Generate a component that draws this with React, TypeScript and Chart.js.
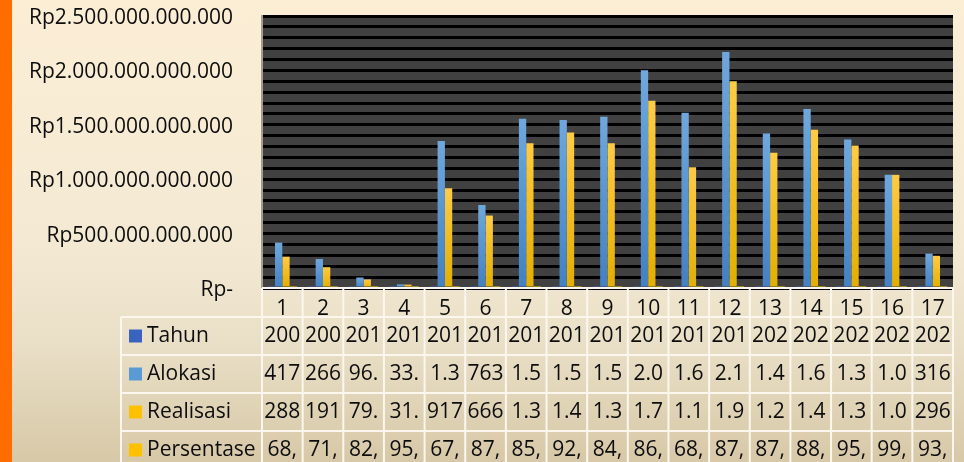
import React, { useEffect, useRef } from 'react';
import { Chart, registerables } from 'chart.js';

Chart.register(...registerables);

// ---- data ----
const categories = ['1', '2', '3', '4', '5', '6', '7', '8', '9', '10', '11', '12', '13', '14', '15', '16', '17'];
const tahun = [2008, 2009, 2010, 2011, 2012, 2013, 2014, 2015, 2016, 2017, 2018, 2019, 2020, 2021, 2022, 2023, 2024];
const alokasi = [
  417e9, 266e9, 96e9, 33e9, 1.352e12, 763e9, 1.556e12, 1.543e12, 1.575e12,
  2.002e12, 1.611e12, 2.168e12, 1.421e12, 1.645e12, 1.365e12, 1.042e12, 316e9,
];
const realisasi = [
  288e9, 191e9, 79e9, 31e9, 917e9, 666e9, 1.331e12, 1.43e12, 1.331e12,
  1.722e12, 1.11e12, 1.9e12, 1.242e12, 1.455e12, 1.31e12, 1.04e12, 296e9,
];
const persentase = [68.9, 71.8, 82.3, 95.1, 67.8, 87.3, 85.5, 92.7, 84.5, 86.0, 68.9, 87.6, 87.3, 88.4, 95.9, 99.7, 93.6];
const seriesNames = ['Tahun', 'Alokasi', 'Realisasi', 'Persentase'];
const yMax = 2.5e12;
const yStripeStep = 1e11;
const yLabelStep = 5e11;

// ---- helpers ----
const FONT = '"Open Sans", Lato, sans-serif';
const FONT_SIZE = 21;
const TEXT = '#0d0d0d';
const withDots = (n: number) => Math.round(n).toString().replace(/\B(?=(\d{3})+(?!\d))/g, '.');
const rpLabel = (v: number) => (v === 0 ? 'Rp-' : 'Rp' + withDots(v));
const clip3 = (s: string) => s.slice(0, 3);

const COLORS = {
  tahun: '#3A63BF',
  alokasi: '#5B9BD5',
  realisasi: '#FFC000',
  persentase: '#FFC000',
};

function vGrad(top: string, bottom: string) {
  return (c: any) => {
    const chart = c.chart;
    if (!chart.chartArea || c.type !== 'data') return top;
    const y = chart.scales.y;
    const y0 = y.getPixelForValue(0);
    const y1 = y.getPixelForValue(c.raw);
    if (!isFinite(y1) || Math.abs(y0 - y1) < 1) return top;
    const g = chart.ctx.createLinearGradient(0, y1, 0, y0);
    g.addColorStop(0, top);
    g.addColorStop(1, bottom);
    return g;
  };
}

const plotBgPlugin = {
  id: 'plotBg',
  beforeDraw(chart: any) {
    const { ctx, chartArea: a } = chart;
    ctx.save();
    ctx.fillStyle = '#414141';
    ctx.fillRect(a.left, a.top, a.right - a.left, a.bottom - a.top);
    ctx.restore();
  },
};

const TABLE_LEFT = 121;
const HEADER_H = 29;
const ROW_H = 38;

const tablePlugin = {
  id: 'dataTable',
  afterDraw(chart: any) {
    const { ctx, chartArea: a, scales } = chart;
    const x = scales.x;
    const n = categories.length;
    const colW = (a.right - a.left) / n;
    const top = a.bottom;
    const rowsTop = top + HEADER_H;
    const bottom = chart.height + 2;
    const rows = [
      { name: seriesNames[0], color: COLORS.tahun, cells: tahun.map((v) => clip3(String(v))) },
      { name: seriesNames[1], color: COLORS.alokasi, cells: alokasi.map((v) => clip3(withDots(v))) },
      { name: seriesNames[2], color: COLORS.realisasi, cells: realisasi.map((v) => clip3(withDots(v))) },
      { name: seriesNames[3], color: COLORS.persentase, cells: persentase.map((v) => clip3(v.toFixed(2).replace('.', ','))) },
    ];
    ctx.save();
    ctx.strokeStyle = '#FBF7EE';
    ctx.lineWidth = 2;
    ctx.beginPath();
    ctx.moveTo(a.left, top);
    ctx.lineTo(a.right, top);
    for (let r = 0; r < rows.length; r++) {
      const yy = rowsTop + r * ROW_H;
      ctx.moveTo(TABLE_LEFT, yy);
      ctx.lineTo(a.right, yy);
    }
    ctx.moveTo(TABLE_LEFT, rowsTop);
    ctx.lineTo(TABLE_LEFT, bottom);
    for (let i = 0; i <= n; i++) {
      const xx = i < n ? x.getPixelForValue(i) - colW / 2 : x.getPixelForValue(n - 1) + colW / 2;
      ctx.moveTo(xx, top);
      ctx.lineTo(xx, bottom);
    }
    ctx.stroke();

    ctx.font = `${FONT_SIZE}px ${FONT}`;
    ctx.textBaseline = 'middle';
    rows.forEach((row, r) => {
      const cy = rowsTop + r * ROW_H + ROW_H / 2;
      ctx.fillStyle = row.color;
      ctx.fillRect(TABLE_LEFT + 8, cy - 6.5, 13, 13);
      ctx.fillStyle = TEXT;
      ctx.textAlign = 'left';
      ctx.fillText(row.name, TABLE_LEFT + 26, cy);
      ctx.textAlign = 'center';
      row.cells.forEach((t, i) => {
        ctx.fillText(t, x.getPixelForValue(i), cy);
      });
    });
    ctx.restore();
  },
};

export default function App() {
  const ref = useRef<HTMLCanvasElement | null>(null);

  useEffect(() => {
    document.body.style.margin = '0';
    if (!ref.current) return;
    const chart = new Chart(ref.current, {
      type: 'bar',
      data: {
        labels: categories,
        datasets: [
          { label: seriesNames[0], data: tahun, backgroundColor: COLORS.tahun, borderWidth: 0 },
          { label: seriesNames[1], data: alokasi, backgroundColor: vGrad('#6EA8DD', '#4480C2'), borderWidth: 0 },
          { label: seriesNames[2], data: realisasi, backgroundColor: vGrad('#FFCB45', '#E2AE00'), borderWidth: 0 },
          { label: seriesNames[3], data: persentase, backgroundColor: COLORS.persentase, borderWidth: 0 },
        ],
      },
      options: {
        animation: false,
        responsive: false,
        devicePixelRatio: 1,
        layout: { padding: { top: 16, right: 11, left: 0, bottom: 0 } },
        datasets: { bar: { barPercentage: 1, categoryPercentage: 0.72 } },
        plugins: { legend: { display: false }, tooltip: { enabled: false } },
        scales: {
          x: {
            grid: { display: false },
            border: { display: false },
            ticks: { font: { family: FONT, size: FONT_SIZE }, color: TEXT, padding: 0, maxRotation: 0 },
            afterFit: (s: any) => { s.height = 174; s.paddingLeft = 0; s.paddingRight = 0; },
          },
          y: {
            min: 0,
            max: yMax,
            grid: { color: '#000000', lineWidth: 3, drawTicks: false },
            border: { display: true, color: '#A39D8E', width: 2 },
            ticks: {
              stepSize: yStripeStep,
              autoSkip: false,
              padding: 29,
              labelOffset: 2,
              font: { family: FONT, size: FONT_SIZE },
              color: TEXT,
              callback: (v: any) => (Math.round(Number(v) / yStripeStep) % Math.round(yLabelStep / yStripeStep) === 0 ? rpLabel(Number(v)) : ''),
            },
            afterFit: (s: any) => { s.width = 262; s.paddingTop = 0; s.paddingBottom = 0; },
          },
        },
      },
      plugins: [plotBgPlugin, tablePlugin],
    });
    return () => chart.destroy();
  }, []);

  return (
    <div
      style={{
        width: 964,
        height: 462,
        position: 'relative',
        overflow: 'hidden',
        background:
          'linear-gradient(to right, #FF6D00 0px, #FF6D00 12px, transparent 12px), linear-gradient(to bottom, #FCEED5 0%, #F3E9D3 55%, #E9DFC6 75%, #D7C8A7 100%)',
      }}
    >
      <canvas ref={ref} width={964} height={462} style={{ display: 'block' }} />
    </div>
  );
}
